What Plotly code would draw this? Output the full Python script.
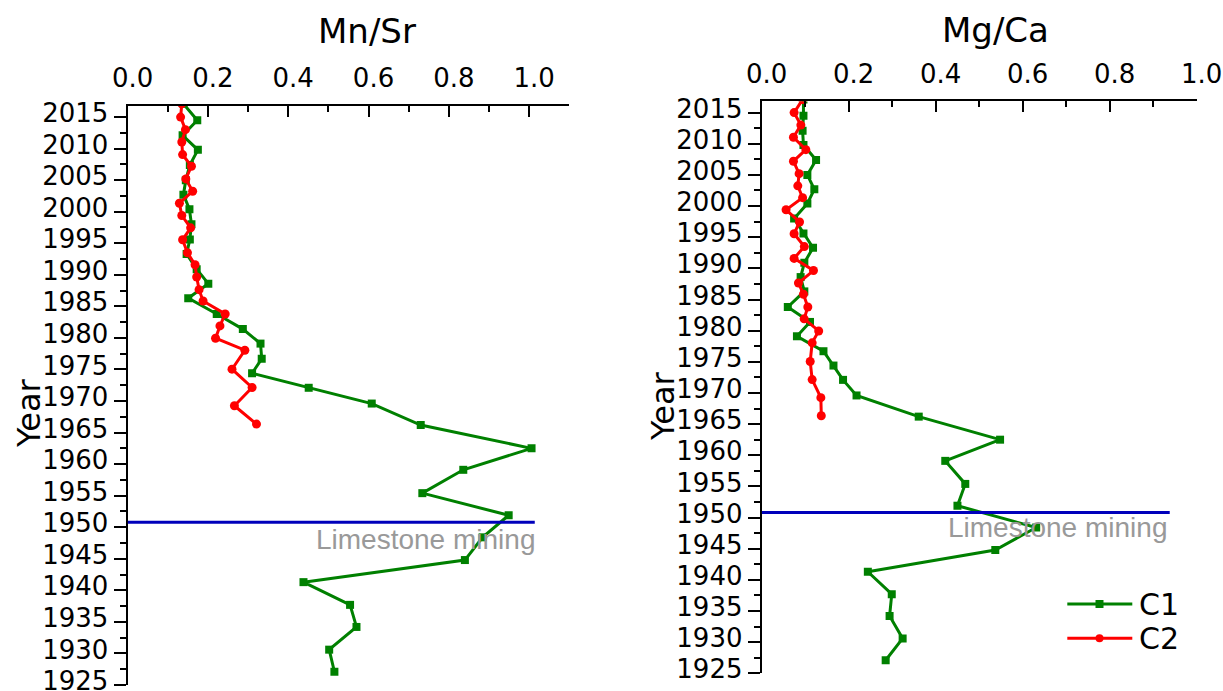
import plotly.graph_objects as go

# ---------------- data ----------------
years_c1 = [2017.1, 2014.5, 2012.1, 2009.8, 2007.4, 2005.0, 2002.7, 2000.4, 1998.0, 1995.6,
            1993.3, 1990.9, 1988.6, 1986.3, 1983.8, 1981.4, 1979.1, 1976.7, 1974.4, 1972.1,
            1969.6, 1966.2, 1962.5, 1959.1, 1955.4, 1951.9, 1948.4, 1944.8, 1941.3, 1937.7,
            1934.2, 1930.6, 1927.1]
years_c2 = [2017.1, 2015.0, 2013.0, 2011.05, 2009.05, 2007.2, 2005.2, 2003.25, 2001.35, 1999.4,
            1997.45, 1995.55, 1993.5, 1991.6, 1989.65, 1987.65, 1985.85, 1983.8, 1981.9,
            1979.95, 1978.05, 1975.05, 1972.15, 1969.25, 1966.35]

mnsr_c1 = [0.139, 0.1735, 0.137, 0.175, 0.155, 0.145, 0.139, 0.154, 0.159, 0.155,
           0.147, 0.172, 0.201, 0.151, 0.222, 0.287, 0.331, 0.334, 0.310, 0.451,
           0.608, 0.730, 1.006, 0.836, 0.734, 0.949, 0.884, 0.840, 0.438, 0.554,
           0.570, 0.502, 0.515]
mnsr_c2 = [0.135, 0.132, 0.144, 0.135, 0.137, 0.159, 0.145, 0.162, 0.129, 0.135,
           0.157, 0.137, 0.149, 0.168, 0.172, 0.178, 0.188, 0.243, 0.230, 0.219,
           0.292, 0.260, 0.310, 0.266, 0.321]

mgca_c1 = [0.096, 0.096, 0.094, 0.096, 0.125, 0.105, 0.121, 0.105, 0.0745, 0.096,
           0.118, 0.098, 0.0895, 0.098, 0.060, 0.111, 0.081, 0.142, 0.165, 0.187,
           0.218, 0.361, 0.548, 0.422, 0.468, 0.450, 0.631, 0.537, 0.244, 0.299,
           0.294, 0.324, 0.285]
mgca_c2 = [0.094, 0.0745, 0.090, 0.073, 0.1015, 0.073, 0.086, 0.083, 0.094, 0.056,
           0.087, 0.0745, 0.098, 0.0745, 0.119, 0.0845, 0.096, 0.106, 0.0976, 0.131,
           0.116, 0.1115, 0.116, 0.136, 0.137]

limestone_year = 1950.8
series_names = ["C1", "C2"]
panel_titles = ["Mn/Sr", "Mg/Ca"]

# ---------------- layout helpers ----------------
W, H = 1223, 691
def fx(p):
    return p / W
def fy(p):
    return 1 - p / H

GREEN = "#008000"
RED = "#ff0000"
BLUE = "#0000bb"
FONT = "DejaVu Sans"

fig = go.Figure()

def add_series(xv, yv, color, symbol, size, xa, ya, name):
    fig.add_trace(go.Scatter(
        x=xv, y=yv, mode="lines+markers", name=name,
        line=dict(color=color, width=3),
        marker=dict(symbol=symbol, size=size, color=color),
        xaxis=xa, yaxis=ya, cliponaxis=True, showlegend=False))

add_series(mnsr_c1, years_c1, GREEN, "square", 8, "x", "y", series_names[0])
add_series(mnsr_c2, years_c2, RED, "circle", 9, "x", "y", series_names[1])
add_series(mgca_c1, years_c1, GREEN, "square", 8, "x2", "y2", series_names[0])
add_series(mgca_c2, years_c2, RED, "circle", 9, "x2", "y2", series_names[1])

def xaxis_cfg(domain, rng, anchor):
    return dict(domain=domain, range=rng, side="top", anchor=anchor, automargin=False,
                showline=True, linecolor="black", linewidth=2, mirror=False,
                ticks="inside", ticklen=11, tickwidth=2, tickcolor="black",
                tick0=0, dtick=0.2, tickformat=".1f",
                minor=dict(dtick=0.1, ticks="inside", ticklen=6, tickwidth=2, tickcolor="black"),
                showgrid=False, zeroline=False,
                tickfont=dict(family=FONT, size=26, color="black"),
                ticklabelshift=5, ticklabelstandoff=6, ticklabeloverflow="allow")

def yaxis_cfg(domain, anchor):
    return dict(domain=domain, range=[1925, 2016.8], anchor=anchor, side="left", automargin=False,
                showline=True, linecolor="black", linewidth=2,
                ticks="outside", ticklen=12, tickwidth=2, tickcolor="black",
                tick0=1925, dtick=5,
                minor=dict(dtick=2.5, ticks="outside", ticklen=6, tickwidth=2, tickcolor="black"),
                showgrid=False, zeroline=False, ticklabeloverflow="allow",
                ticklabelshift=-4,
                tickfont=dict(family=FONT, size=26, color="black"))

fig.update_layout(
    width=W, height=H,
    margin=dict(l=0, r=0, t=0, b=0, autoexpand=False),
    paper_bgcolor="white", plot_bgcolor="white",
    showlegend=False,
    xaxis=xaxis_cfg([fx(127.6), fx(569.3)], [0, 1.1], "y"),
    yaxis=yaxis_cfg([1 - 685 / H, 1 - 105.7 / H], "x"),
    xaxis2=xaxis_cfg([fx(761.7), fx(1196.7)], [0, 1.0], "y2"),
    yaxis2=yaxis_cfg([1 - 673.3 / H, 1 - 101.4 / H], "x2"),
)

# Limestone mining lines
shapes = [
    dict(type="line", xref="x", yref="y", x0=0, x1=1.014, y0=limestone_year, y1=limestone_year,
         line=dict(color=BLUE, width=3)),
    dict(type="line", xref="x2", yref="y2", x0=0, x1=0.938, y0=limestone_year, y1=limestone_year,
         line=dict(color=BLUE, width=3)),
]

# manual legend (right panel)
leg = [(604, GREEN, "square"), (638.3, RED, "circle")]
for ly, col, sym in leg:
    shapes.append(dict(type="line", xref="paper", yref="paper",
                       x0=fx(1067.3), x1=fx(1132.3), y0=fy(ly), y1=fy(ly),
                       line=dict(color=col, width=3)))
    shapes.append(dict(type="rect" if sym == "square" else "circle", xref="paper", yref="paper",
                       x0=fx(1095.5), x1=fx(1103.5), y0=fy(ly + 4), y1=fy(ly - 4),
                       line=dict(width=0), fillcolor=col))
fig.update_layout(shapes=shapes)

annotations = [
    dict(text=panel_titles[0], x=fx(367.5), y=fy(31), xref="paper", yref="paper",
         xanchor="center", yanchor="middle", showarrow=False,
         font=dict(family=FONT, size=34, color="black")),
    dict(text=panel_titles[1], x=fx(995), y=fy(30), xref="paper", yref="paper",
         xanchor="center", yanchor="middle", showarrow=False,
         font=dict(family=FONT, size=34, color="black")),
    dict(text="Year", x=fx(29), y=fy(413), xref="paper", yref="paper", textangle=-90,
         xanchor="center", yanchor="middle", showarrow=False,
         font=dict(family=FONT, size=32, color="black")),
    dict(text="Year", x=fx(663), y=fy(406), xref="paper", yref="paper", textangle=-90,
         xanchor="center", yanchor="middle", showarrow=False,
         font=dict(family=FONT, size=32, color="black")),
    dict(text="Limestone mining", x=fx(537), y=fy(539), xref="paper", yref="paper",
         xanchor="right", yanchor="middle", showarrow=False,
         font=dict(family="Liberation Sans", size=28, color="#999999")),
    dict(text="Limestone mining", x=fx(1169), y=fy(527), xref="paper", yref="paper",
         xanchor="right", yanchor="middle", showarrow=False,
         font=dict(family="Liberation Sans", size=28, color="#999999")),
    dict(text=series_names[0], x=fx(1137), y=fy(604), xref="paper", yref="paper",
         xanchor="left", yanchor="middle", showarrow=False,
         font=dict(family=FONT, size=30, color="black")),
    dict(text=series_names[1], x=fx(1137), y=fy(638), xref="paper", yref="paper",
         xanchor="left", yanchor="middle", showarrow=False,
         font=dict(family=FONT, size=30, color="black")),
]
fig.update_layout(annotations=annotations)

fig.write_html("out.html")
